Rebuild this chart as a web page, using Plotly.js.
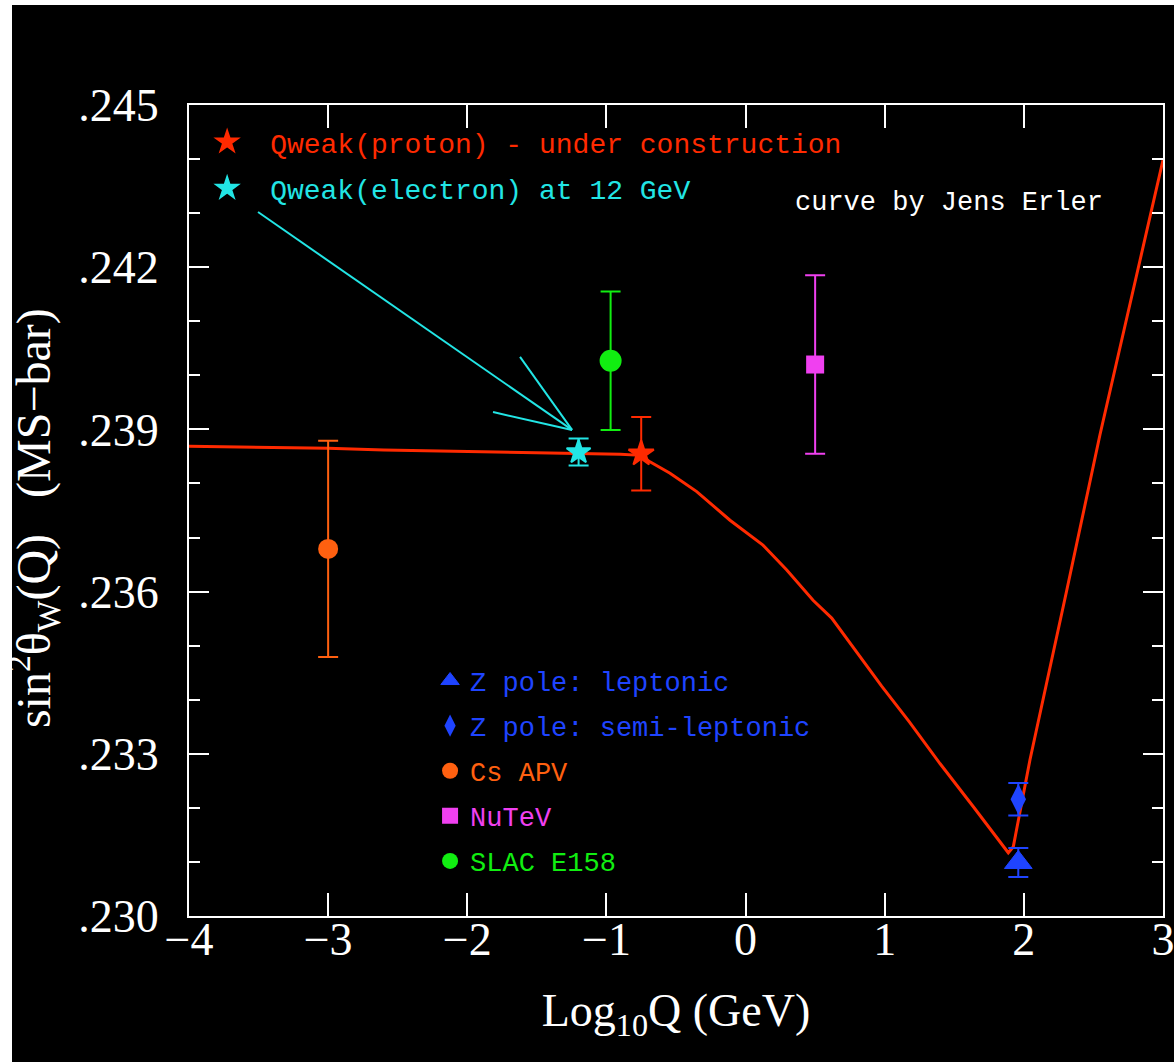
<!DOCTYPE html>
<html>
<head>
<meta charset="utf-8">
<script src="https://cdn.plot.ly/plotly-3.0.1.min.js"></script>
<style>
  html, body { margin: 0; padding: 0; background: #ffffff; width: 1174px; height: 1062px; overflow: hidden; }
  #chart { position: absolute; left: 12px; top: 5px; width: 1162px; height: 1057px; background: #000000; }
</style>
</head>
<body>
<div id="chart"></div>
<script>
// ---- Theory curve (Jens Erler): log10 Q vs sin^2 theta_W(Q) ----
const curveX = [-4, -3, -2.6, -1.9, -1.2, -0.9, -0.75, -0.687, -0.543, -0.351, -0.112, 0.125, 0.296, 0.485, 0.619, 0.810, 0.978, 1.177, 1.397, 1.637, 1.805, 1.888, 1.924, 2.044, 2.308, 2.547, 2.811, 3.0];
const curveY = [0.23869, 0.23865, 0.23862, 0.23859, 0.23856, 0.23854, 0.23852, 0.23840, 0.23819, 0.23785, 0.23732, 0.23686, 0.23640, 0.23584, 0.23551, 0.23483, 0.23425, 0.23359, 0.23282, 0.23202, 0.23144, 0.23117, 0.23128, 0.23289, 0.23602, 0.23890, 0.24186, 0.24398];

// ---- Measurements ----
const qwProtonX = [-0.75],  qwProtonY = [0.23855],  qwProtonErr = [0.00068];
const qwElecX   = [-1.2],   qwElecY   = [0.23858],  qwElecErr   = [0.00025];
const zLepX     = [1.96],   zLepY     = [0.23099],  zLepErr     = [0.00027];
const zSemiX    = [1.96],   zSemiY    = [0.23216],  zSemiErr    = [0.00030];
const csX       = [-3.0],   csY       = [0.23679],  csErr       = [0.00200];
const nutevX    = [0.5],    nutevY    = [0.24020],  nutevErr    = [0.00165];
const slacX     = [-0.97],  slacY     = [0.24027],  slacErr     = [0.00128];

// ---- Labels ----
const names = {
  proton: "Qweak(proton) - under construction",
  elec: "Qweak(electron) at 12 GeV",
  zlep: "Z pole: leptonic",
  zsemi: "Z pole: semi-leptonic",
  cs: "Cs APV",
  nutev: "NuTeV",
  slac: "SLAC E158"
};
const creditText = "curve by Jens Erler";
const xTitle = "Log<sub>10</sub>Q (GeV)";
const yTitle = "sin<sup>2</sup>θ<sub>W</sub>(Q)\u00a0\u00a0\u00a0(MS−bar)";
const xTickVals = [-4, -3, -2, -1, 0, 1, 2, 3];
const yTickVals = [0.230, 0.233, 0.236, 0.239, 0.242, 0.245];
const yTickText = [".230", ".233", ".236", ".239", ".242", ".245"];

// ---- Arrow pointing to the Qweak(electron) point (shaft + two head strokes) ----
const arrowX0 = [-3.504, -1.621, -1.815];
const arrowY0 = [0.24302, 0.24034, 0.23932];
const arrowX1 = [-1.247, -1.247, -1.247];
const arrowY1 = [0.23899, 0.23899, 0.23899];

const C = {
  red: "#ff2a00", cyan: "#22e5e5", blue: "#1f44ff", orange: "#ff6010",
  magenta: "#f040f0", green: "#11ee11", white: "#ffffff"
};

function colored(text, color) { return '<span style="color:' + color + '">' + text + '</span>'; }

function pointTrace(x, y, err, color, symbol, size, lw, name, legend, group) {
  return {
    type: "scatter", mode: "markers", x: x, y: y, name: colored(name, color),
    legend: legend, legendgroup: group, showlegend: true, hoverinfo: "skip",
    marker: { color: color, symbol: symbol, size: size, line: { width: lw, color: color } },
    error_y: { type: "data", array: err, visible: true, color: color, thickness: 2, width: 10 }
  };
}

const data = [
  { type: "scatter", mode: "lines", x: curveX, y: curveY, showlegend: false, hoverinfo: "skip",
    line: { color: C.red, width: 3 } },
  pointTrace(qwProtonX, qwProtonY, qwProtonErr, C.red, "star", 19, 2, names.proton, "legend", "g1"),
  pointTrace(qwElecX, qwElecY, qwElecErr, C.cyan, "star", 18, 2, names.elec, "legend", "g2"),
  pointTrace(zLepX, zLepY, zLepErr, C.blue, "triangle-up", 24, 1, names.zlep, "legend2", "g3"),
  pointTrace(zSemiX, zSemiY, zSemiErr, C.blue, "diamond-tall", 22, 0, names.zsemi, "legend2", "g4"),
  pointTrace(csX, csY, csErr, C.orange, "circle", 20, 0, names.cs, "legend2", "g5"),
  pointTrace(nutevX, nutevY, nutevErr, C.magenta, "square", 18, 0, names.nutev, "legend2", "g6"),
  pointTrace(slacX, slacY, slacErr, C.green, "circle", 22, 0, names.slac, "legend2", "g7")
];

const shapes = arrowX0.map(function (x0, i) {
  return { type: "line", xref: "x", yref: "y", x0: x0, y0: arrowY0[i], x1: arrowX1[i], y1: arrowY1[i],
           line: { color: C.cyan, width: 2 } };
});

const serif = "Liberation Serif, Times New Roman, serif";
const mono = "Liberation Mono, Courier New, monospace";

const layout = {
  width: 1162, height: 1057,
  margin: { l: 177, r: 11, t: 100, b: 146 },
  paper_bgcolor: "#000000", plot_bgcolor: "#000000",
  font: { family: serif, color: C.white },
  showlegend: true,
  xaxis: {
    range: [-4, 3], tickmode: "array", tickvals: xTickVals,
    ticks: "inside", ticklen: 23, tickwidth: 2, tickcolor: C.white,
    showline: true, linecolor: C.white, linewidth: 2, mirror: "ticks",
    showgrid: false, zeroline: false,
    tickfont: { family: serif, size: 46, color: C.white },
    ticklabelstandoff: -18, ticklabeloverflow: "allow",
    title: { text: xTitle, font: { family: serif, size: 46, color: C.white }, standoff: 30 }
  },
  yaxis: {
    range: [0.230, 0.245], tickmode: "array", tickvals: yTickVals, ticktext: yTickText,
    ticks: "inside", ticklen: 20, tickwidth: 2, tickcolor: C.white,
    minor: { dtick: 0.001, ticks: "inside", ticklen: 11, tickwidth: 2, tickcolor: C.white, showgrid: false },
    showline: true, linecolor: C.white, linewidth: 2, mirror: "ticks",
    showgrid: false, zeroline: false,
    tickfont: { family: serif, size: 46, color: C.white },
    ticklabelstandoff: 19
  },
  legend: {
    x: -0.005, y: 0.985, xanchor: "left", yanchor: "top",
    bgcolor: "rgba(0,0,0,0)", borderwidth: 0,
    font: { family: mono, size: 28, color: C.white },
    itemwidth: 76, traceorder: "grouped", tracegroupgap: 7, itemclick: false, itemdoubleclick: false
  },
  legend2: {
    x: 0.2475, y: 0.32, xanchor: "left", yanchor: "top",
    bgcolor: "rgba(0,0,0,0)", borderwidth: 0,
    font: { family: mono, size: 27, color: C.white },
    itemwidth: 30, traceorder: "grouped", tracegroupgap: 7, itemclick: false, itemdoubleclick: false
  },
  annotations: [
    { xref: "paper", yref: "paper", x: 0.62, y: 0.879, xanchor: "left", yanchor: "middle",
      text: creditText, showarrow: false, font: { family: mono, size: 27, color: C.white } },
    { xref: "paper", yref: "paper", x: -0.159, y: 0.4908, xanchor: "center", yanchor: "middle",
      textangle: -90, text: yTitle, showarrow: false, font: { family: serif, size: 48, color: C.white } }
  ],
  shapes: shapes
};

Plotly.newPlot("chart", data, layout, { staticPlot: true, displayModeBar: false });
</script>
</body>
</html>
